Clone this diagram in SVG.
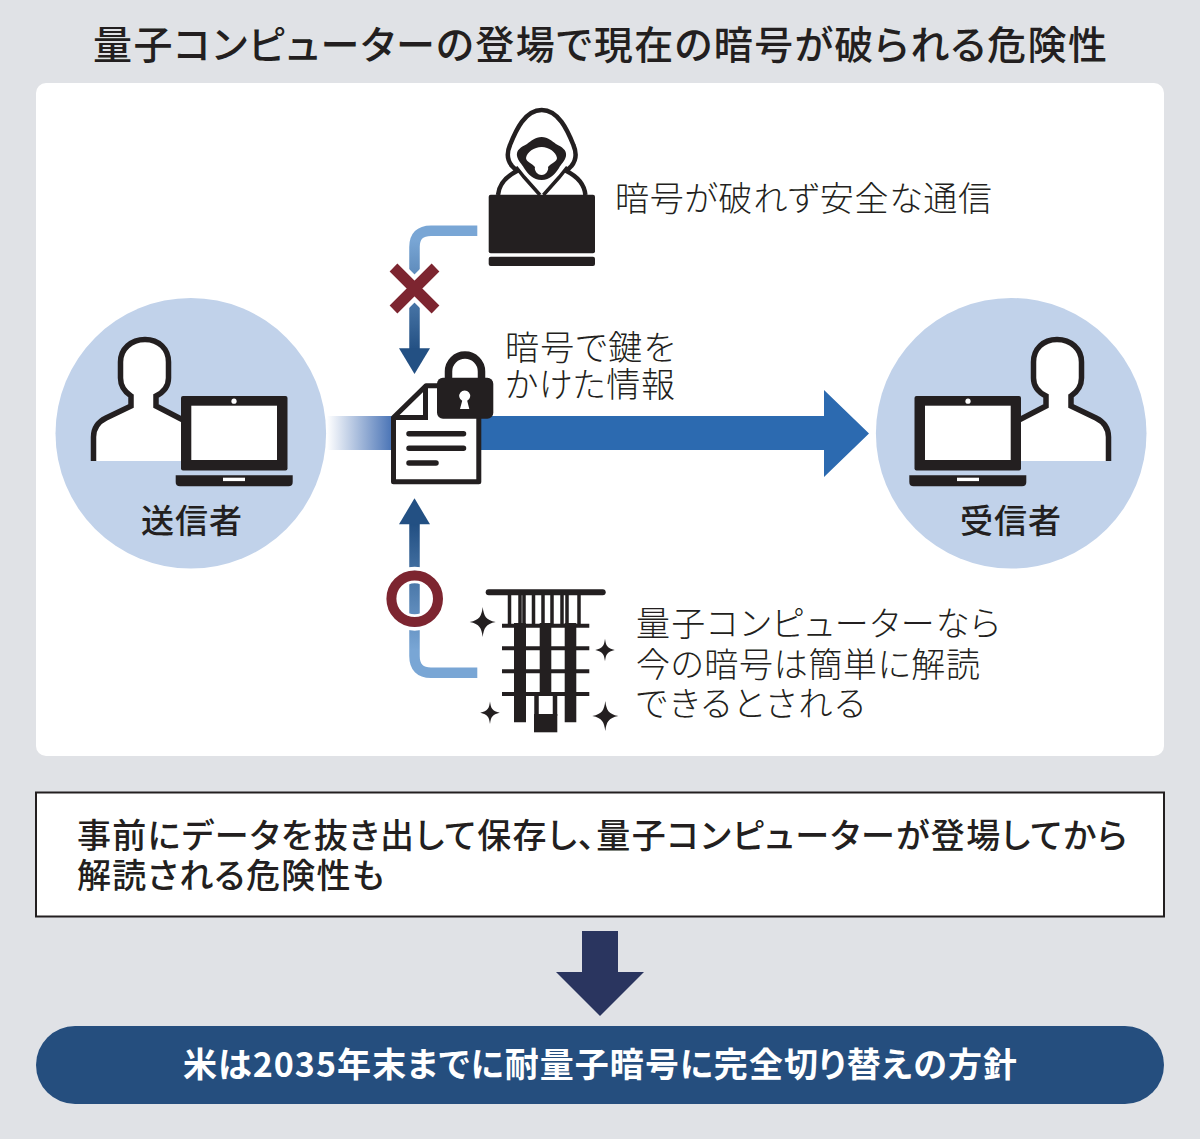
<svg xmlns="http://www.w3.org/2000/svg" width="1200" height="1139" viewBox="0 0 1200 1139">
<style>
text{font-family:"Noto Sans CJK JP","Noto Sans CJK SC",sans-serif;fill:#231f20;font-feature-settings:"palt"}
.title{font-size:39px;font-weight:500}
.lab{font-size:34px;font-weight:300}
.box{font-size:34px;font-weight:500}
.who{font-size:33px;font-weight:500}
.pill{font-size:34px;font-weight:700;fill:#fff}
.k{fill:#231f20}
</style>
<defs>
<linearGradient id="band" gradientUnits="userSpaceOnUse" x1="327" y1="0" x2="392" y2="0"><stop offset="0" stop-color="#fff"/><stop offset="1" stop-color="#4a74b6"/></linearGradient>
<linearGradient id="down" gradientUnits="userSpaceOnUse" x1="0" y1="240" x2="0" y2="350"><stop offset="0" stop-color="#79a6d5"/><stop offset="1" stop-color="#235083"/></linearGradient>
<linearGradient id="up" gradientUnits="userSpaceOnUse" x1="0" y1="650" x2="0" y2="525"><stop offset="0" stop-color="#79a6d5"/><stop offset="1" stop-color="#235083"/></linearGradient>
<path id="spark" d="M0-15C1.200-6 3-2 13 0C3 2 1.200 6 0 15C-1.200 6-3 2-13 0C-3-2-1.200-6 0-15Z" fill="#231f20"/>
<g id="user">
<circle cx="190.800" cy="433.300" r="135.300" fill="#c1d2ea"/>
<path d="M93.500 461V437C93.500 428 98 422 106 418L131 406V396C125 392 120.500 386 120.500 378V362C120.500 349 131 339.500 145 339.500C159 339.500 168.500 349 168.500 362V378C168.500 386 164 392 156 396V406L185 421V461Z" fill="#fff"/>
<path d="M93.500 461V437C93.500 428 98 422 106 418L131 406V396C125 392 120.500 386 120.500 378V362C120.500 349 131 339.500 145 339.500C159 339.500 168.500 349 168.500 362V378C168.500 386 164 392 156 396V406L185 421" fill="none" stroke="#231f20" stroke-width="5.500"/>
<rect x="181" y="396" width="106.500" height="74.500" rx="2" class="k"/>
<rect x="191.300" y="405.700" width="85.700" height="54.300" fill="#fff"/>
<circle cx="234" cy="401.200" r="2.600" fill="#fff"/>
<path d="M175.700 475.300H292.700V482Q292.700 486.300 288.500 486.300H180Q175.700 486.300 175.700 482Z" class="k"/>
<rect x="223" y="477.700" width="22" height="3.400" fill="#fff"/>
</g>
</defs>
<rect width="1200" height="1139" fill="#e0e2e6"/>
<text class="title" x="93" y="59" textLength="1014">量子コンピューターの登場で現在の暗号が破られる危険性</text>
<rect id="panel" x="36" y="83" width="1128" height="673" rx="10" fill="#fff"/>

<g id="connectors">
<path id="main-arrow" d="M327 416H392V450H327Z" fill="url(#band)"/>
<path d="M480 416H824V390L869 433.500L824 477V450H480Z" fill="#2c6ab0"/>
<path d="M477.300 230.700H431Q414.500 230.700 414.500 247V350" fill="none" stroke="url(#down)" stroke-width="10.500"/>
<path d="M399 348.300H430L414.500 374Z" fill="#235083"/>
<path d="M477.300 672.700H431Q414.500 672.700 414.500 656V522" fill="none" stroke="url(#up)" stroke-width="10.500"/>
<path d="M399 524.300H430L414.500 498.300Z" fill="#235083"/>
</g>

<g id="mark-x">
<path d="M393 267L436 310M436 267L393 310" stroke="#fff" stroke-width="20" fill="none"/>
<path d="M393.500 267.500L435.500 309.500M435.500 267.500L393.500 309.500" stroke="#7d2530" stroke-width="11" fill="none"/>
</g>
<g id="mark-o">
<circle cx="414.700" cy="598.700" r="30" fill="none" stroke="#fff" stroke-width="4"/>
<circle cx="414.700" cy="598.700" r="18" fill="none" stroke="#fff" stroke-width="5"/>
<circle cx="414.700" cy="598.700" r="23.300" fill="none" stroke="#7d2530" stroke-width="10"/>
</g>

<g id="sender"><use href="#user"/><text class="who" x="141" y="533" textLength="101">送信者</text></g>
<g id="receiver"><use href="#user" transform="translate(1202 0) scale(-1 1)"/><text class="who" x="960" y="533" textLength="101">受信者</text></g>

<g id="document">
<path d="M393.500 417.500L426 385.800H478.800V481.800H393.500Z" fill="#fff" stroke="#231f20" stroke-width="5" stroke-linejoin="round"/>
<path d="M393.500 417.500H425.500V385.800" fill="none" stroke="#231f20" stroke-width="5"/>
<path d="M409 433.700H463.500M409 448.300H463.500M409 463H436" stroke="#231f20" stroke-width="5.500" stroke-linecap="round" fill="none"/>
<path d="M448.500 380V371.500a16.500 16.500 0 0 1 33 0V380" fill="none" stroke="#231f20" stroke-width="7.500"/>
<rect x="437" y="377.700" width="56.300" height="41" rx="6" class="k"/>
<path d="M462.200 400.800a5.500 5.500 0 1 1 5 0L469.300 409H460Z" fill="#fff"/>
</g>

<g id="hacker">
<path d="M498 195C499 184 507 176 517 171L512 166C507 160 507 152 510 145C516 130 525 110 541.700 110C558.400 110 567.400 130 573.400 145C576.400 152 576.400 160 571.400 166L566.400 171C576.400 176 584.400 184 585.400 195" fill="#fff" stroke="#231f20" stroke-width="4.500"/>
<path d="M541.700 137C535 137 531 141 527 144C521 147 516 150 517 156C518 161 522 164 524 168C528 174 533 180 541.700 180C550 180 555 174 559 168C561 164 565 161 566 156C567 150 562 147 556 144C552 141 548 137 541.700 137Z" class="k"/>
<path d="M541.700 147C534 147 527 152 526 158C526 162 532 163 535 167C534 170 537 175 541.700 175C546 175 549 170 548 167C551 163 557 162 557 158C556 152 549 147 541.700 147Z" fill="#fff"/>
<path d="M516 167L524 177L540 195M567.400 167L559.400 177L543.400 195" fill="none" stroke="#231f20" stroke-width="3.500"/>
<rect x="488.700" y="194.700" width="106.300" height="58.600" rx="2" class="k"/>
<rect x="488.700" y="256.700" width="106.300" height="9.300" rx="2" class="k"/>
</g>

<g id="quantum">
<rect x="485.700" y="589.300" width="120" height="6" rx="3" class="k"/>
<path d="M509.500 595V624M520 595V624M524 595V624M533.500 595V624M543 595V624M552 595V624M562 595V624M567 595V624M579 595V624" stroke="#231f20" stroke-width="3.500" fill="none"/>
<path d="M502 625.700H589.300M502 648.300H589.300M502 671.300H589.300M502 694H589.300" stroke="#231f20" stroke-width="4" fill="none"/>
<path d="M514 623H526V722.300H514ZM539.700 623H551.300V694H539.700ZM564.700 623H576.300V722.300H564.700Z" class="k"/>
<path d="M536.500 694V716M555 694V716" stroke="#231f20" stroke-width="4.500" fill="none"/>
<rect x="534" y="714" width="23.300" height="18.300" class="k"/>
<use href="#spark" transform="translate(482.700 622)"/>
<use href="#spark" transform="translate(605 650) scale(.75)"/>
<use href="#spark" transform="translate(490 712.700) scale(.75)"/>
<use href="#spark" transform="translate(605.300 716)"/>
</g>

<text class="lab" x="615" y="211" textLength="377">暗号が破れず安全な通信</text>
<text class="lab"><tspan x="505" y="360" textLength="170">暗号で鍵を</tspan><tspan x="505" y="397" textLength="170">かけた情報</tspan></text>
<text class="lab"><tspan x="636" y="636" textLength="364">量子コンピューターなら</tspan><tspan x="636" y="677" textLength="344">今の暗号は簡単に解読</tspan><tspan x="636" y="716" textLength="229">できるとされる</tspan></text>

<g id="note">
<rect x="36" y="792.500" width="1128" height="124" fill="#fff" stroke="#231f20" stroke-width="2"/>
<text class="box"><tspan x="77" y="848" textLength="1050">事前にデータを抜き出して保存し、量子コンピューターが登場してから</tspan><tspan x="77" y="888" textLength="307">解読される危険性も</tspan></text>
</g>
<path id="down-arrow" d="M582 931H618V972H644L600 1016L556 972H582Z" fill="#2a355f"/>
<g id="conclusion">
<rect x="36" y="1026" width="1128" height="78" rx="39" fill="#254e7e"/>
<text class="pill" x="183" y="1077" textLength="834">米は2035年末までに耐量子暗号に完全切り替えの方針</text>
</g>
</svg>
